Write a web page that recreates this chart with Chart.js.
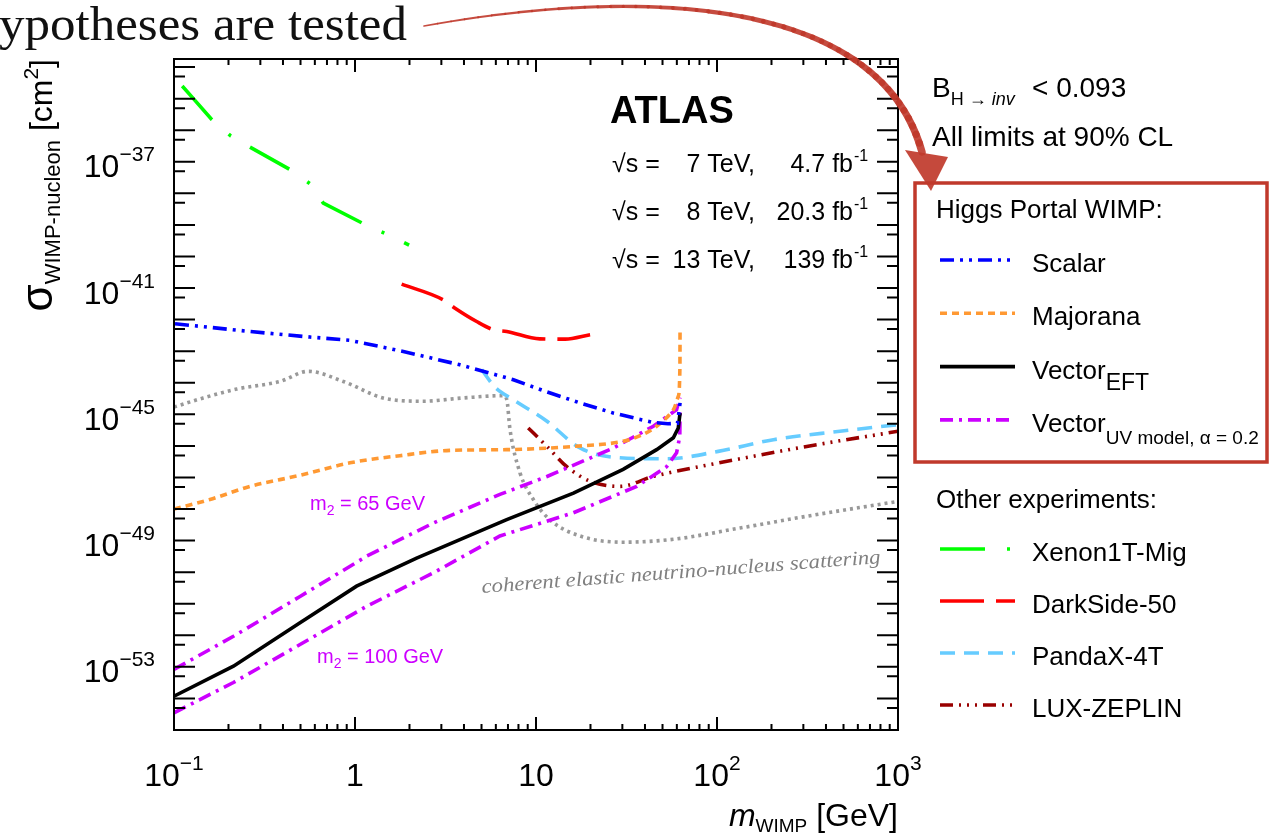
<!DOCTYPE html>
<html>
<head>
<meta charset="utf-8">
<script src="https://cdn.jsdelivr.net/npm/chart.js@4/dist/chart.umd.min.js"></script>
<style>
  html, body { margin: 0; padding: 0; background: #fff; }
</style>
</head>
<body>
<canvas id="myChart" width="1269" height="835"></canvas>
<script>
// axis ticks
var xTickValues = [0.1, 1, 10, 100, 1000];
var xTickBase = ["10", "1", "10", "10", "10"];
var xTickExp = ["\u22121", "", "", "2", "3"];
var yTickValues = [1e-37, 1e-41, 1e-45, 1e-49, 1e-53];
var yTickBase = ["10", "10", "10", "10", "10"];
var yTickExp = ["\u221237", "\u221241", "\u221245", "\u221249", "\u221253"];

// Higgs portal limits (m_WIMP in GeV, sigma in cm2)
var scalarMass = [0.1013, 0.263, 0.564, 0.938, 1.85, 3.80, 7.5, 11.5, 17.5, 26.7, 44.5, 53.6, 60.5, 62.5];
var scalarXsec = [7.4e-43, 4.2e-43, 2.8e-43, 2.2e-43, 9.8e-44, 3.7e-44, 1.25e-44, 5.1e-45, 2.3e-45, 1.1e-45, 5.5e-46, 5.0e-46, 5.2e-46, 2.3e-45];

var majoranaMass = [0.1, 0.158, 0.263, 0.497, 0.938, 1.77, 3.35, 6.89, 16.1, 30.3, 37.6, 46.4, 57.4, 61.1, 62.4, 62.5];
var majoranaXsec = [1.0e-48, 2.0e-48, 5.2e-48, 1.17e-47, 2.9e-47, 4.9e-47, 7.2e-47, 7.6e-47, 9.6e-47, 1.4e-46, 2.1e-46, 4.2e-46, 1.4e-45, 3.7e-45, 3.3e-44, 5.4e-43];

var eftMass = [0.1, 0.213, 0.497, 1.02, 2.19, 6.89, 16.1, 30.3, 46.4, 57.4, 61.1, 62.5];
var eftXsec = [1.18e-54, 1.05e-53, 2.5e-52, 3.6e-51, 2.8e-50, 4.6e-49, 3.2e-48, 1.8e-47, 7.6e-47, 1.8e-46, 3.7e-46, 1.1e-45];

var uv65Mass = [0.1, 0.213, 0.497, 1.16, 2.71, 6.32, 11.5, 26.7, 44.5, 59.8, 62.5];
var uv65Xsec = [8.3e-54, 9.3e-53, 1.7e-51, 3.2e-50, 3.6e-49, 2.9e-48, 1.07e-47, 8.5e-47, 4.2e-46, 1.4e-45, 3.4e-45];

var uv100Mass = [0.1, 0.213, 0.497, 1.16, 2.71, 6.32, 16.1, 36.0, 52.7, 59.8, 62.3, 62.5];
var uv100Xsec = [3.5e-55, 3.2e-54, 5.1e-53, 8.3e-52, 9.5e-51, 1.4e-49, 7.6e-49, 5.2e-48, 2.2e-47, 6.0e-47, 2.0e-46, 1.5e-45];

// other experiments
var xenonMass = [0.111, 0.128, 0.1615, 0.2056, 0.272, 0.449, 0.569, 0.668, 1.11, 1.48, 1.99];
var xenonXsec = [2.5e-35, 1.0e-35, 2.2e-36, 6.6e-37, 2.6e-37, 5.2e-38, 1.95e-38, 4.9e-39, 1.1e-39, 5.2e-40, 2.3e-40];

var darksideMass = [1.81, 3.08, 3.57, 4.70, 5.81, 6.89, 10.5, 14.5, 19.9];
var darksideXsec = [1.33e-41, 4.2e-42, 2.3e-42, 8.7e-43, 4.8e-43, 4.2e-43, 2.45e-43, 2.4e-43, 3.3e-43];

var pandaxMass = [5.01, 5.93, 7.5, 11.5, 17.5, 29.1, 52.7, 101.6, 205, 478, 1000];
var pandaxXsec = [2.6e-44, 7.3e-45, 2.9e-45, 6.0e-46, 8.6e-47, 4.2e-47, 3.9e-47, 6.7e-47, 1.57e-46, 2.9e-46, 4.7e-46];

var luxMass = [9.06, 11.5, 14.8, 19.9, 29.1, 44.5, 102.6, 313, 1000];
var luxXsec = [3.7e-46, 9.6e-47, 2.2e-47, 7.6e-48, 5.2e-48, 1.08e-47, 2.9e-47, 9.6e-47, 2.9e-46];

// neutrino floor
var fogMass = [0.1, 0.145, 0.222, 0.385, 0.552, 0.861, 1.43, 2.38, 3.96, 6.59, 6.9, 7.18, 8.16, 9.67, 11.9, 17.5, 30.3, 57.4, 134, 313, 1000];
var fogXsec = [1.7e-45, 3.3e-45, 6.3e-45, 1.1e-44, 2.3e-44, 1.1e-44, 3.3e-45, 2.6e-45, 3.3e-45, 3.9e-45, 2.9e-45, 3.4e-46, 1.4e-47, 2.0e-48, 4.6e-49, 1.4e-49, 8.9e-50, 1.1e-49, 2.5e-49, 5.9e-49, 1.75e-48];

// maintain data above!!!

function pts(m, s) {
  var out = [];
  for (var i = 0; i < m.length; i++) out.push({x: m[i], y: s[i]});
  return out;
}

function line(label, sub, group, m, s, color, dash, smooth) {
  var ds = {
    label: label, sub: sub, group: group,
    data: pts(m, s),
    borderColor: color, borderWidth: 3.6, borderDash: dash,
    pointRadius: 0, fill: false, tension: 0
  };
  if (smooth) ds.cubicInterpolationMode = "monotone";
  return ds;
}

var datasets = [
  line("Scalar", "", 0, scalarMass, scalarXsec, "#0000ff", [14, 6, 3, 6, 3, 6], false),
  line("Majorana", "", 0, majoranaMass, majoranaXsec, "#ff9933", [7, 5], true),
  line("Vector", "EFT", 0, eftMass, eftXsec, "#000000", [], false),
  line("Vector", "UV model, \u03b1 = 0.2", 0, uv65Mass, uv65Xsec, "#cc00ff", [13, 6, 3, 6], false),
  line("Vector", "UV model, \u03b1 = 0.2", -1, uv100Mass, uv100Xsec, "#cc00ff", [13, 6, 3, 6], false),
  line("Xenon1T-Mig", "", 1, xenonMass, xenonXsec, "#00ff00", [45, 22, 3, 22], false),
  line("DarkSide-50", "", 1, darksideMass, darksideXsec, "#ff0000", [44, 12], true),
  line("PandaX-4T", "", 1, pandaxMass, pandaxXsec, "#66ccff", [15, 9], true),
  line("LUX-ZEPLIN", "", 1, luxMass, luxXsec, "#990000", [13, 6, 2, 6, 2, 6, 2, 6], true),
  line("neutrino floor", "", -1, fogMass, fogXsec, "#999999", [3, 4], true)
];

var F = '"Liberation Sans", Arial, Helvetica, sans-serif';
var S = '"Liberation Serif", "Times New Roman", serif';

// draws text made of pieces (sub/superscripts), returns width
function rich(ctx, parts, x, y, align) {
  var w = 0, i;
  for (i = 0; i < parts.length; i++) {
    ctx.font = parts[i].font;
    parts[i].w = ctx.measureText(parts[i].t).width;
    w += parts[i].w;
  }
  var cx = align === "right" ? x - w : (align === "center" ? x - w / 2 : x);
  ctx.textAlign = "left";
  ctx.textBaseline = "alphabetic";
  for (i = 0; i < parts.length; i++) {
    ctx.font = parts[i].font;
    ctx.fillStyle = parts[i].color || "#000";
    ctx.fillText(parts[i].t, cx, y + (parts[i].dy || 0));
    cx += parts[i].w;
  }
  return w;
}

var decor = {
  id: "decor",
  afterDraw: function(chart) {
    var ctx = chart.ctx, a = chart.chartArea;
    var xs = chart.scales.x, ys = chart.scales.y;
    var i, e, k, p;
    ctx.save();

    // frame + inward ticks
    ctx.strokeStyle = "#000";
    ctx.lineWidth = 2;
    ctx.strokeRect(a.left, a.top, a.right - a.left, a.bottom - a.top);
    ctx.beginPath();
    for (e = -56; e <= -34; e++) {
      p = ys.getPixelForValue(Math.pow(10, e));
      if (p >= a.top - 1 && p <= a.bottom + 1) {
        ctx.moveTo(a.left, p); ctx.lineTo(a.left + 21, p);
        ctx.moveTo(a.right, p); ctx.lineTo(a.right - 21, p);
      }
      p = ys.getPixelForValue(5 * Math.pow(10, e));
      if (p >= a.top - 1 && p <= a.bottom + 1) {
        ctx.moveTo(a.left, p); ctx.lineTo(a.left + 11, p);
        ctx.moveTo(a.right, p); ctx.lineTo(a.right - 11, p);
      }
    }
    for (e = -1; e <= 3; e++) {
      for (k = 1; k <= 9; k++) {
        var v = k * Math.pow(10, e);
        if (v > 1000.5) break;
        p = xs.getPixelForValue(v);
        var len = k === 1 ? 13 : 6;
        ctx.moveTo(p, a.bottom); ctx.lineTo(p, a.bottom - len);
        ctx.moveTo(p, a.top); ctx.lineTo(p, a.top + len);
      }
    }
    ctx.stroke();

    // tick labels
    for (i = 0; i < yTickValues.length; i++) {
      p = ys.getPixelForValue(yTickValues[i]);
      rich(ctx, [{t: yTickBase[i], font: "32px " + F}, {t: yTickExp[i], font: "21px " + F, dy: -16}], a.left - 19, p + 15.5, "right");
    }
    for (i = 0; i < xTickValues.length; i++) {
      p = xs.getPixelForValue(xTickValues[i]);
      rich(ctx, [{t: xTickBase[i], font: "32px " + F}, {t: xTickExp[i], font: "21px " + F, dy: -16}], p, 786, "center");
    }

    // axis titles
    rich(ctx, [{t: "m", font: "italic 32px " + F}, {t: "WIMP", font: "19px " + F, dy: 6}, {t: " [GeV]", font: "32px " + F}], a.right, 826, "right");
    ctx.save();
    ctx.translate(52, a.top);
    ctx.rotate(-Math.PI / 2);
    rich(ctx, [{t: "\u03c3", font: "44px " + F}, {t: "WIMP-nucleon", font: "22px " + F, dy: 8}, {t: " [cm", font: "32px " + F}, {t: "2", font: "21px " + F, dy: -14}, {t: "]", font: "32px " + F}], 0, 0, "right");
    ctx.restore();

    // in-plot text
    rich(ctx, [{t: "ATLAS", font: "bold 38px " + F}], a.left + 436, a.top + 64, "left");
    var energies = ["7 TeV,", "8 TeV,", "13 TeV,"];
    var lumis = ["4.7 fb", "20.3 fb", "139 fb"];
    for (i = 0; i < 3; i++) {
      var by = a.top + 113 + i * 48;
      rich(ctx, [{t: "\u221as =", font: "25px " + F}], a.left + 438, by, "left");
      rich(ctx, [{t: energies[i], font: "25px " + F}], a.left + 581, by, "right");
      rich(ctx, [{t: lumis[i], font: "25px " + F}], a.left + 679, by, "right");
      rich(ctx, [{t: "-1", font: "16px " + F}], a.left + 680, by - 11, "left");
    }
    var mag = "#cc00ff";
    rich(ctx, [{t: "m", font: "20px " + F, color: mag}, {t: "2", font: "14px " + F, dy: 5, color: mag}, {t: " = 65 GeV", font: "20px " + F, color: mag}], a.left + 136, a.top + 451, "left");
    rich(ctx, [{t: "m", font: "20px " + F, color: mag}, {t: "2", font: "14px " + F, dy: 5, color: mag}, {t: " = 100 GeV", font: "20px " + F, color: mag}], a.left + 143, a.top + 604, "left");

    ctx.save();
    ctx.translate(a.left + 308, a.top + 534);
    ctx.rotate(-0.075);
    ctx.font = "italic 20px " + S;
    var cw = ctx.measureText("coherent elastic neutrino-nucleus scattering").width;
    ctx.scale(400 / cw, 1);
    ctx.fillStyle = "#808080";
    ctx.textAlign = "left";
    ctx.fillText("coherent elastic neutrino-nucleus scattering", 0, 0);
    ctx.restore();

    // legend side
    var lx = a.right + 34;
    rich(ctx, [{t: "B", font: "28px " + F}, {t: "H \u2192 ", font: "18px " + F, dy: 8}, {t: "inv", font: "italic 18px " + F, dy: 8}], lx, 97, "left");
    rich(ctx, [{t: "< 0.093", font: "28px " + F}], lx + 100, 97, "left");
    rich(ctx, [{t: "All limits at 90% CL", font: "28px " + F}], lx, 146, "left");
    rich(ctx, [{t: "Higgs Portal WIMP:", font: "26px " + F}], lx + 4, 218, "left");
    rich(ctx, [{t: "Other experiments:", font: "26px " + F}], lx + 4, 508, "left");
    var rowStart = [260, 549];
    var rowStep = [53.3, 52];
    var count = [0, 0];
    chart.data.datasets.forEach(function(ds) {
      if (ds.group < 0) return;
      var y = rowStart[ds.group] + count[ds.group] * rowStep[ds.group];
      count[ds.group]++;
      ctx.save();
      ctx.strokeStyle = ds.borderColor;
      ctx.lineWidth = ds.borderWidth;
      ctx.setLineDash(ds.borderDash);
      ctx.beginPath();
      ctx.moveTo(lx + 8, y);
      ctx.lineTo(lx + 83, y);
      ctx.stroke();
      ctx.restore();
      var parts = [{t: ds.label, font: "26px " + F}];
      if (ds.sub === "EFT") parts.push({t: ds.sub, font: "23px " + F, dy: 11});
      else if (ds.sub) parts.push({t: ds.sub, font: "19px " + F, dy: 12});
      rich(ctx, parts, lx + 100, y + 12, "left");
    });

    // slide overlay: heading, arrow and box
    ctx.save();
    ctx.font = "48px " + S;
    var hw = ctx.measureText("ypotheses are tested").width;
    ctx.translate(-1, 40);
    ctx.scale(408 / hw, 1);
    ctx.fillStyle = "#111";
    ctx.textAlign = "left";
    ctx.fillText("ypotheses are tested", 0, 0);
    ctx.restore();

    ctx.strokeStyle = "#c0392b";
    ctx.lineWidth = 3.5;
    ctx.strokeRect(915, 183, 352, 279);

    var p0 = [424, 26], p1 = [650, -15], p2 = [880, 0], p3 = [922, 152];
    ctx.strokeStyle = "rgba(192,57,43,0.9)";
    ctx.lineCap = "round";
    var prev = p0;
    for (var t = 0.02; t <= 1.0001; t += 0.02) {
      var u = 1 - t;
      var px = u*u*u*p0[0] + 3*u*u*t*p1[0] + 3*u*t*t*p2[0] + t*t*t*p3[0];
      var py = u*u*u*p0[1] + 3*u*u*t*p1[1] + 3*u*t*t*p2[1] + t*t*t*p3[1];
      ctx.lineWidth = 1.5 + 6 * t;
      ctx.beginPath();
      ctx.moveTo(prev[0], prev[1]);
      ctx.lineTo(px, py);
      ctx.stroke();
      prev = [px, py];
    }
    ctx.fillStyle = "rgba(192,57,43,0.92)";
    ctx.beginPath();
    ctx.moveTo(905, 150);
    ctx.lineTo(948, 157);
    ctx.lineTo(931, 191);
    ctx.closePath();
    ctx.fill();

    ctx.restore();
  }
};

var ctx = document.getElementById("myChart").getContext("2d");
var chart = new Chart(ctx, {
  type: "line",
  data: { datasets: datasets },
  options: {
    responsive: false,
    animation: false,
    devicePixelRatio: 1,
    layout: { padding: { left: 174, right: 371, top: 59, bottom: 105 } },
    plugins: { legend: { display: false }, tooltip: { enabled: false } },
    scales: {
      x: { type: "logarithmic", min: 0.1, max: 1000, display: false },
      y: { type: "logarithmic", min: 1e-55, max: 1.8e-34, display: false }
    }
  },
  plugins: [decor]
});
</script>
</body>
</html>
